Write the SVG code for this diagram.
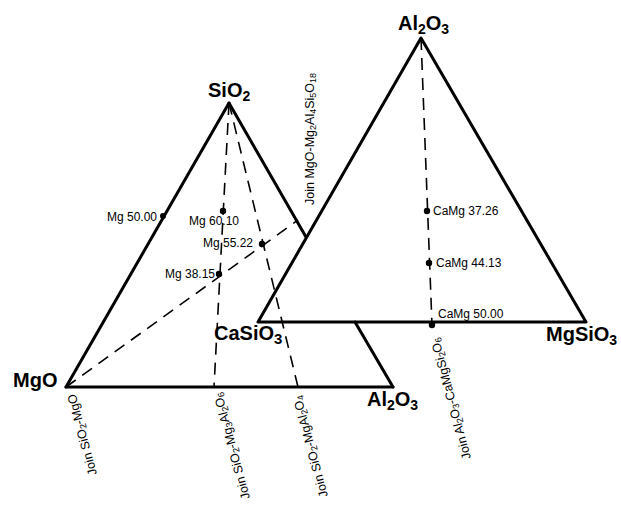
<svg xmlns="http://www.w3.org/2000/svg" width="621" height="507" viewBox="0 0 621 507">
<style>
  .edge{stroke:#000;stroke-width:3;fill:none;stroke-linecap:round;stroke-linejoin:round}
  .join{stroke:#000;stroke-width:1.6;fill:none;stroke-dasharray:12 8}
  .big{font-family:"Liberation Sans",Arial,sans-serif;font-weight:bold;font-size:20px;fill:#000}
  .sm{font-family:"Liberation Sans",Arial,sans-serif;font-size:12px;fill:#000}
  .jl{font-family:"Liberation Sans",Arial,sans-serif;font-size:12.5px;fill:#000}
  .dot{fill:#000}
</style>
<rect width="621" height="507" fill="#fff"/>
<g id="connectors">
  <!-- left triangle MgO-SiO2-Al2O3 -->
  <line class="edge" x1="66" y1="387" x2="229" y2="103"/>
  <line class="edge" x1="66" y1="387" x2="393" y2="387"/>
  <line class="edge" x1="229" y1="103" x2="306" y2="237"/>
  <line class="edge" x1="355" y1="322" x2="393" y2="387"/>
  <!-- right triangle CaSiO3-Al2O3-MgSiO3 -->
  <polyline class="edge" points="258,322 421,38 586,322 258,322"/>
  <!-- joins -->
  <line class="join" x1="229" y1="103" x2="214" y2="387"/>
  <line class="join" x1="229" y1="103" x2="298" y2="387"/>
  <line class="join" x1="66" y1="387" x2="298" y2="220"/>
  <line class="join" x1="421" y1="38" x2="432" y2="325"/>
</g>
<g id="node-SiO2"><text class="big" x="208" y="97">SiO<tspan font-size="14" dy="4">2</tspan></text></g>
<g id="node-MgO"><text class="big" x="13" y="387">MgO</text></g>
<g id="node-Al2O3-left"><text class="big" x="367" y="406">Al<tspan font-size="14" dy="4">2</tspan><tspan dy="-4">O</tspan><tspan font-size="14" dy="4">3</tspan></text></g>
<g id="node-Al2O3-right"><text class="big" x="398" y="30">Al<tspan font-size="14" dy="4">2</tspan><tspan dy="-4">O</tspan><tspan font-size="14" dy="4">3</tspan></text></g>
<g id="node-CaSiO3"><text class="big" x="214" y="340">CaSiO<tspan font-size="15" dy="4">3</tspan></text></g>
<g id="node-MgSiO3"><text class="big" x="546" y="341">MgSiO<tspan font-size="14" dy="4">3</tspan></text></g>

<g id="pt-mg5000"><circle class="dot" cx="163" cy="216" r="3"/><text class="sm" x="107" y="221">Mg 50.00</text></g>
<g id="pt-mg6010"><circle class="dot" cx="223" cy="211" r="3.2"/><text class="sm" x="189" y="224.5">Mg 60.10</text></g>
<g id="pt-mg5522"><circle class="dot" cx="262" cy="244" r="3.2"/><text class="sm" x="203" y="246.5">Mg 55.22</text></g>
<g id="pt-mg3815"><circle class="dot" cx="219" cy="274" r="3.2"/><text class="sm" x="165" y="277.5">Mg 38.15</text></g>
<g id="pt-camg3726"><circle class="dot" cx="427" cy="211" r="3.2"/><text class="sm" x="433" y="214.5">CaMg 37.26</text></g>
<g id="pt-camg4413"><circle class="dot" cx="429" cy="263" r="3.2"/><text class="sm" x="436" y="267">CaMg 44.13</text></g>
<g id="pt-camg5000"><circle class="dot" cx="432" cy="325" r="3.2"/><text class="sm" x="438" y="318">CaMg 50.00</text></g>

<g id="join-labels">
  <text class="jl" transform="translate(314,205) rotate(-90)">Join MgO-Mg<tspan font-size="9" dy="2">2</tspan><tspan dy="-2">Al</tspan><tspan font-size="9" dy="2">4</tspan><tspan dy="-2">Si</tspan><tspan font-size="9" dy="2">5</tspan><tspan dy="-2">O</tspan><tspan font-size="9" dy="2">18</tspan></text>
  <text class="jl" transform="translate(97,474) rotate(-105)">Join SiO<tspan font-size="9" dy="2">2</tspan><tspan dy="-2">-MgO</tspan></text>
  <text class="jl" transform="translate(250,498) rotate(-105)">Join SiO<tspan font-size="9" dy="2">2</tspan><tspan dy="-2">-Mg</tspan><tspan font-size="9" dy="2">3</tspan><tspan dy="-2">Al</tspan><tspan font-size="9" dy="2">2</tspan><tspan dy="-2">O</tspan><tspan font-size="9" dy="2">6</tspan></text>
  <text class="jl" transform="translate(328,496) rotate(-105)">Join SiO<tspan font-size="9" dy="2">2</tspan><tspan dy="-2">-MgAl</tspan><tspan font-size="9" dy="2">2</tspan><tspan dy="-2">O</tspan><tspan font-size="9" dy="2">4</tspan></text>
  <text class="jl" transform="translate(471,458) rotate(-105)">Join Al<tspan font-size="9" dy="2">2</tspan><tspan dy="-2">O</tspan><tspan font-size="9" dy="2">3</tspan><tspan dy="-2">-CaMgSi</tspan><tspan font-size="9" dy="2">2</tspan><tspan dy="-2">O</tspan><tspan font-size="9" dy="2">6</tspan></text>
</g>
</svg>
